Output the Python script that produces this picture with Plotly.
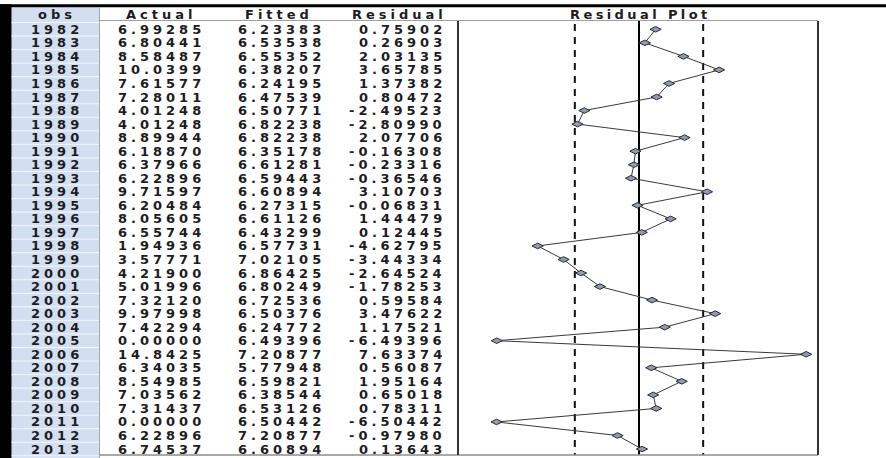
import plotly.graph_objects as go

# ---------------- data ----------------
years = list(range(1982, 2014))
actual = [6.99285, 6.80441, 8.58487, 10.0399, 7.61577, 7.28011, 4.01248, 4.01248,
          8.89944, 6.18870, 6.37966, 6.22896, 9.71597, 6.20484, 8.05605, 6.55744,
          1.94936, 3.57771, 4.21900, 5.01996, 7.32120, 9.97998, 7.42294, 0.00000,
          14.8425, 6.34035, 8.54985, 7.03562, 7.31437, 0.00000, 6.22896, 6.74537]
fitted = [6.23383, 6.53538, 6.55352, 6.38207, 6.24195, 6.47539, 6.50771, 6.82238,
          6.82238, 6.35178, 6.61281, 6.59443, 6.60894, 6.27315, 6.61126, 6.43299,
          6.57731, 7.02105, 6.86425, 6.80249, 6.72536, 6.50376, 6.24772, 6.49396,
          7.20877, 5.77948, 6.59821, 6.38544, 6.53126, 6.50442, 7.20877, 6.60894]
residual = [0.75902, 0.26903, 2.03135, 3.65785, 1.37382, 0.80472, -2.49523, -2.80990,
            2.07706, -0.16308, -0.23316, -0.36546, 3.10703, -0.06831, 1.44479, 0.12445,
            -4.62795, -3.44334, -2.64524, -1.78253, 0.59584, 3.47622, 1.17521, -6.49396,
            7.63374, 0.56087, 1.95164, 0.65018, 0.78311, -6.50442, -0.97980, 0.13643]
headers = ["obs", "Actual", "Fitted", "Residual"]
plot_title = "Residual Plot"
se_band = 2.93  # +/- one standard error of regression

# ---------------- layout helpers ----------------
W, H = 886, 458
PX_UNIT = 21.9      # pixels per residual unit
X_ZERO = 639.0      # pixel of residual zero
ROW0 = 29.3         # pixel centre of first row
PITCH = 13.54       # row pitch
LS = 4.0            # letter spacing (px)


def ry(py):
    """pixel y -> row coordinate"""
    return (py - ROW0) / PITCH


def fmt(v):
    return f"{v:.4f}" if abs(v) >= 10 else f"{v:.5f}"


TXT = dict(family="DejaVu Sans", size=13, color="#1c1c24", weight="bold")


def sp(s, ls=LS):
    return f'<span style="letter-spacing:{ls}px">{s}</span>'


rows = list(range(len(years)))

fig = go.Figure()
fig.add_trace(go.Scatter(
    x=residual, y=rows, mode="lines+markers", xaxis="x", yaxis="y",
    line=dict(color="#3a3a3a", width=1),
    marker=dict(symbol="diamond-wide", size=8, color="#8e9ab8",
                line=dict(color="#2b2b2b", width=1)),
    hoverinfo="skip", showlegend=False))

shapes = []
# top black bar and left black strip
shapes.append(dict(type="rect", xref="paper", yref="paper", x0=0, x1=1,
                   y0=1 - 7.3 / H, y1=1 - 4.2 / H, fillcolor="black", line_width=0, layer="above"))
shapes.append(dict(type="rect", xref="x2", yref="paper", x0=0, x1=11.5,
                   y0=0, y1=1 - 4.2 / H, fillcolor="black", line_width=0))
# obs column background
shapes.append(dict(type="rect", xref="x2", yref="y", x0=11.5, x1=99.5,
                   y0=ry(7.3), y1=ry(H), fillcolor="#d3dff0", line_width=0, layer="below"))
# obs cell separators
for i in range(-1, len(years)):
    shapes.append(dict(type="line", xref="x2", yref="y", x0=11.5, x1=99,
                       y0=i + 0.5, y1=i + 0.5, line=dict(color="#f3f6fa", width=1)))
# obs column right border
shapes.append(dict(type="line", xref="x2", yref="y", x0=99.5, x1=99.5,
                   y0=ry(7.3), y1=ry(H), line=dict(color="#a8a8a8", width=1)))
# header underline and bottom line
shapes.append(dict(type="line", xref="x2", yref="y", x0=100, x1=818,
                   y0=ry(20.5), y1=ry(20.5), line=dict(color="#a0a0a0", width=1)))
shapes.append(dict(type="line", xref="x2", yref="y", x0=100, x1=818,
                   y0=ry(455), y1=ry(455), line=dict(color="#8c8c8c", width=1.5)))
# plot box sides
for px in (458, 818):
    shapes.append(dict(type="line", xref="x2", yref="y", x0=px, x1=px,
                       y0=ry(21), y1=ry(455), line=dict(color="#333333", width=2)))
# zero line and +/- SE dashed lines
shapes.append(dict(type="line", xref="x", yref="y", x0=0, x1=0,
                   y0=ry(21), y1=ry(455), line=dict(color="black", width=2), layer="below"))
for s in (-se_band, se_band):
    shapes.append(dict(type="line", xref="x", yref="y", x0=s, x1=s,
                       y0=ry(24), y1=ry(455), line=dict(color="#111111", width=2, dash="7px,6px"),
                       layer="below"))

ann = []
hdr_y = ry(14.5)
hdr_x = [55, 159, 277, 397]
BOX = dict(showarrow=False, yanchor="middle", borderpad=0, font=TXT)
for hx, h in zip(hdr_x, headers):
    ann.append(dict(xref="x2", yref="y", x=hx + LS / 2, y=hdr_y, text=sp(h), xanchor="center", **BOX))
ann.append(dict(xref="x", yref="y", x=0.08, y=hdr_y, text=sp(plot_title, 3.4), xanchor="center", **BOX))

for i, (yr, a, f, r) in enumerate(zip(years, actual, fitted, residual)):
    ann.append(dict(xref="x2", yref="y", x=55 + LS / 2, y=i, text=sp(yr), xanchor="center", **BOX))
    for rx, v in ((202, a), (322, f), (443, r)):
        ann.append(dict(xref="x2", yref="y", x=rx + LS, y=i, text=sp(fmt(v)), xanchor="right", **BOX))

fig.update_layout(
    width=W, height=H, margin=dict(l=0, r=0, t=0, b=0),
    paper_bgcolor="white", plot_bgcolor="white",
    xaxis=dict(range=[-X_ZERO / PX_UNIT, (W - X_ZERO) / PX_UNIT], visible=False, domain=[0, 1]),
    xaxis2=dict(range=[0, W], visible=False, overlaying="x", anchor="y", domain=[0, 1]),
    yaxis=dict(range=[ry(H), ry(0)], visible=False, domain=[0, 1]),
    shapes=shapes, annotations=ann, showlegend=False,
)

fig.write_html("out.html", config={"displayModeBar": False},
               post_script="document.body.style.margin='0';document.body.style.overflow='hidden';")
